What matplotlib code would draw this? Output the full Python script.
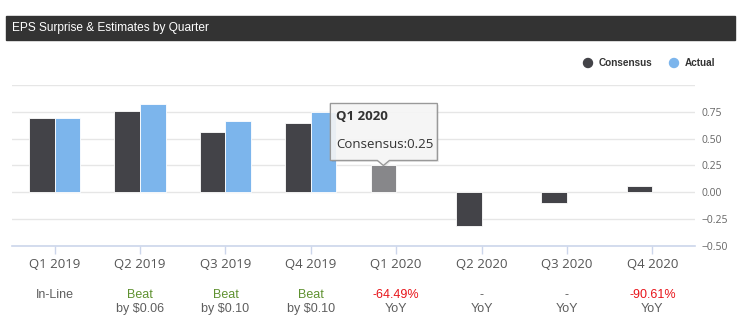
import numpy as np
import matplotlib
matplotlib.use('Agg')
import matplotlib.pyplot as plt
import matplotlib.transforms as mtransforms
from matplotlib.patches import Polygon, Rectangle, Circle

# EPS by quarter
quarters = ['Q1 2019', 'Q2 2019', 'Q3 2019', 'Q4 2019',
            'Q1 2020', 'Q2 2020', 'Q3 2020', 'Q4 2020']
consensus = [0.69, 0.76, 0.56, 0.65, 0.25, -0.31, -0.10, 0.06]
actual = [0.69, 0.82, 0.66, 0.75]  # only reported quarters

# surprise / yoy row under the axis
top_text = ['In-Line', 'Beat', 'Beat', 'Beat', '-64.49%', '-', '-', '-90.61%']
top_kind = ['flat', 'beat', 'beat', 'beat', 'down', 'flat', 'flat', 'down']
bottom_text = ['', 'by $0.06', 'by $0.10', 'by $0.10', 'YoY', 'YoY', 'YoY', 'YoY']

hover_idx = 4  # quarter with the tooltip open

W, H = 742, 327
dark = '#434348'
blue = '#7cb5ec'
kind_color = {'flat': '#5e5e5e', 'beat': '#5f9130', 'down': '#e8141a'}
narrow = ['Liberation Sans Narrow', 'Liberation Sans', 'DejaVu Sans']
plain = ['Open Sans', 'DejaVu Sans']


def fx(x):
    return x / W


def fy(y):
    return 1 - y / H


fig = plt.figure(figsize=(W / 100, H / 100), dpi=100)
fig.patch.set_facecolor('white')

# header strip
fig.patches.append(Rectangle((fx(6), fy(40)), fx(735) - fx(6), fy(16) - fy(40),
                             transform=fig.transFigure, color='#333333', zorder=0))
fig.text(fx(12), fy(28), 'EPS Surprise & Estimates by Quarter', color='white',
         fontsize=8.6, family=narrow, va='center', ha='left')

# legend
for cx, tx, label in [(588, 599, 'Consensus'), (674, 685, 'Actual')]:
    col = dark if label == 'Consensus' else blue
    fig.patches.append(Circle((cx, H - 63), 4.5, transform=mtransforms.IdentityTransform(),
                              color=col, zorder=3))
    fig.text(fx(tx), fy(63), label, color='#333333', fontsize=7.2, family=narrow,
             fontweight='bold', va='center', ha='left')

ax = fig.add_axes([fx(12), fy(246), fx(695) - fx(12), fy(85) - fy(246)])
x = np.arange(len(quarters))
bw = 0.3

cons_colors = [dark] * len(quarters)
cons_colors[hover_idx] = '#87878a'
ax.bar(x - bw / 2, consensus, width=bw, color=cons_colors, edgecolor='white',
       linewidth=0.6, zorder=3)
ax.bar(x[:len(actual)] + bw / 2, actual, width=bw, color=blue, edgecolor='white',
       linewidth=0.6, zorder=3)

ax.set_xlim(-0.5, len(quarters) - 0.5)
ax.set_ylim(-0.5, 1.0)
ax.set_yticks([-0.5, -0.25, 0, 0.25, 0.5, 0.75, 1.0])
ax.set_yticklabels(['−0.50', '−0.25', '0.00', '0.25', '0.50', '0.75', ''])
ax.yaxis.tick_right()
ax.tick_params(axis='y', length=0, pad=5, labelsize=7.5, labelcolor='#666666')
for lab in ax.get_yticklabels():
    lab.set_family(plain)
ax.grid(axis='y', color='#e6e6e6', linewidth=1, zorder=0)
ax.set_xticks(x)
ax.set_xticklabels(quarters, fontsize=9.5, color='#555555', family=plain)
ax.tick_params(axis='x', length=6, color='#ccd6eb', width=1, pad=3)
for side in ['top', 'left', 'right']:
    ax.spines[side].set_visible(False)
ax.spines['bottom'].set_color('#ccd6eb')
ax.spines['bottom'].set_linewidth(1.2)

# labels under each quarter
trans = mtransforms.blended_transform_factory(ax.transData, fig.transFigure)
for i in range(len(quarters)):
    ax.text(i, fy(295), top_text[i], transform=trans, ha='center', va='center',
            fontsize=9, family=narrow, color=kind_color[top_kind[i]])
    ax.text(i, fy(309), bottom_text[i], transform=trans, ha='center', va='center',
            fontsize=9, family=narrow, color='#5e5e5e')

# tooltip over the hovered bar
fig.canvas.draw()
px, py = ax.transData.transform((hover_idx - bw / 2, consensus[hover_idx]))
L, R, B, T = px - 53, px + 54, py + 5, py + 62
pts = [(L, B), (px - 6, B), (px, py), (px + 6, B), (R, B), (R, T), (L, T)]
shadow = [(a + 1.5, b - 1.5) for a, b in pts]
fig.patches.append(Polygon(shadow, closed=True, transform=mtransforms.IdentityTransform(),
                           facecolor=(0, 0, 0, 0.08), edgecolor='none', zorder=5))
fig.patches.append(Polygon(pts, closed=True, transform=mtransforms.IdentityTransform(),
                           facecolor=(0.97, 0.97, 0.97, 0.9), edgecolor='#999999',
                           linewidth=1, zorder=6))
fig.text((L + 6) / W, (T - 13) / H, quarters[hover_idx], fontsize=9.5,
         fontweight='bold', family=plain, color='#333333', va='center', zorder=7)
fig.text((L + 6) / W, (T - 41) / H, 'Consensus:%.2f' % consensus[hover_idx],
         fontsize=9.5, family=plain, color='#333333', va='center', zorder=7)

fig.savefig('out.png', dpi=100)
